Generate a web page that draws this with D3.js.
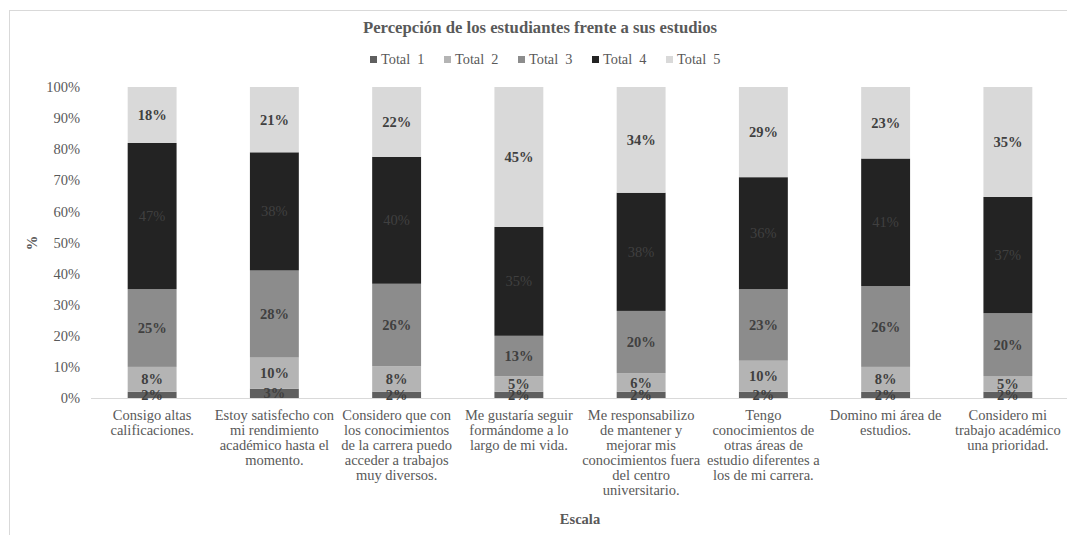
<!DOCTYPE html>
<html><head><meta charset="utf-8">
<script src="https://cdn.jsdelivr.net/npm/d3@7"></script>
<style>body{margin:0;background:#fff}svg{display:block}</style>
</head><body>
<svg id="c" width="1067" height="535"></svg>
<script>
const categories = [
  ["Consigo altas","calificaciones."],
  ["Estoy satisfecho con","mi rendimiento","académico hasta el","momento."],
  ["Considero que con","los conocimientos","de la carrera puedo","acceder a trabajos","muy diversos."],
  ["Me gustaría seguir","formándome a lo","largo de mi vida."],
  ["Me responsabilizo","de mantener y","mejorar mis","conocimientos fuera","del centro","universitario."],
  ["Tengo","conocimientos de","otras áreas de","estudio diferentes a","los de mi carrera."],
  ["Domino mi área de","estudios."],
  ["Considero mi","trabajo académico","una prioridad."]
];
const seriesNames = ["Total  1","Total  2","Total  3","Total  4","Total  5"];
const total1 = [2,3,2,2,2,2,2,2];
const total2 = [8,10,8,5,6,10,8,5];
const total3 = [25,28,26,13,20,23,26,20];
const total4 = [47,38,40,35,38,36,41,37];
const total5 = [18,21,22,45,34,29,23,35];
const yTicks = [0,0.1,0.2,0.3,0.4,0.5,0.6,0.7,0.8,0.9,1];
const colors = ["#5f5f5f","#b4b4b4","#8c8c8c","#232323","#d9d9d9"];

const series = [total1,total2,total3,total4,total5];
const svg = d3.select("#c");
const font = "'Liberation Serif','Times New Roman',serif";

// border
svg.append("rect").attr("x",9.5).attr("y",10.5).attr("width",1070).attr("height",540)
  .attr("fill","none").attr("stroke","#d9d9d9");

const x = d3.scaleBand().domain(d3.range(categories.length)).range([91,1069]).paddingInner(0.6).paddingOuter(0.3);
const y = d3.scaleLinear().domain([0,1]).range([398,87]);

const rows = categories.map((c,i)=>{
  const o = {i}; series.forEach((s,k)=>o["s"+k]=s[i]); return o;
});
const stack = d3.stack().keys(series.map((s,k)=>"s"+k)).offset(d3.stackOffsetExpand);
const stacked = stack(rows);

// axis line
svg.append("line").attr("x1",91).attr("x2",1069).attr("y1",y(0)+0.5).attr("y2",y(0)+0.5)
  .attr("stroke","#d9d9d9").attr("stroke-width",1);

// y axis
const yAxis = svg.append("g").attr("transform","translate(80,0)")
  .call(d3.axisLeft(y).tickValues(yTicks).tickFormat(d3.format(".0%")).tickSize(0).tickPadding(0));
yAxis.select(".domain").remove();
yAxis.selectAll("text").attr("font-family",font).attr("font-size",14.5).attr("fill","#595959");

// bars
const g = svg.append("g");
stacked.forEach((layer,k)=>{
  g.selectAll(null).data(layer).enter().append("rect")
    .attr("x",(d,i)=>x(i)).attr("width",x.bandwidth())
    .attr("y",d=>y(d[1])).attr("height",d=>y(d[0])-y(d[1]))
    .attr("fill",colors[k]);
});
stacked.forEach((layer,k)=>{
  g.selectAll(null).data(layer).enter().append("text")
    .attr("x",(d,i)=>x(i)+x.bandwidth()/2)
    .attr("y",d=>(y(d[0])+y(d[1]))/2)
    .attr("dy","0.35em").attr("text-anchor","middle")
    .attr("font-family",font).attr("font-size",14.5)
    .attr("font-weight",k===3?"normal":"bold")
    .attr("fill","#404040")
    .text((d,i)=>series[k][i]+"%");
});

// x labels
const xl = svg.append("g");
categories.forEach((lines,i)=>{
  const t = xl.append("text").attr("text-anchor","middle")
    .attr("font-family",font).attr("font-size",14.5).attr("fill","#595959");
  lines.forEach((ln,j)=>{
    t.append("tspan").attr("x",x(i)+x.bandwidth()/2).attr("y",420+j*15).text(ln);
  });
});

// title
svg.append("text").attr("x",540).attr("y",33).attr("text-anchor","middle")
  .attr("font-family",font).attr("font-size",16.7).attr("font-weight","bold").attr("fill","#595959")
  .text("Percepción de los estudiantes frente a sus estudios");

// legend
const lg = svg.append("g");
seriesNames.forEach((n,k)=>{
  const lx = 370 + k*74;
  lg.append("rect").attr("x",lx).attr("y",56).attr("width",7).attr("height",7).attr("fill",colors[k]);
  lg.append("text").attr("x",lx+11).attr("y",64).attr("font-family",font).attr("font-size",14.3)
    .attr("fill","#595959").attr("xml:space","preserve").text(n);
});

// axis titles
svg.append("text").attr("transform","translate(37,243) rotate(-90)").attr("text-anchor","middle")
  .attr("font-family",font).attr("font-size",14.5).attr("font-weight","bold").attr("fill","#595959").text("%");
svg.append("text").attr("x",580).attr("y",524).attr("text-anchor","middle")
  .attr("font-family",font).attr("font-size",14.5).attr("font-weight","bold").attr("fill","#595959").text("Escala");
</script>
</body></html>
